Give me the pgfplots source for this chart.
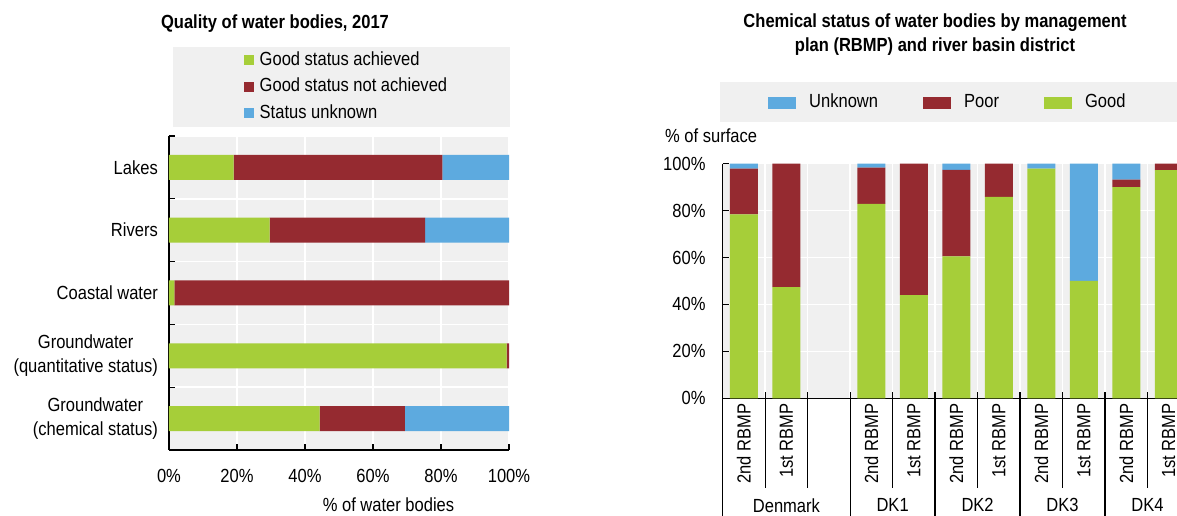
\documentclass[border=0pt]{standalone}
\usepackage{pgfplots}
\pgfplotsset{compat=1.18}
\usepackage{fontspec}
\setmainfont{Liberation Sans}[FakeStretch=0.87]
\definecolor{cgreen}{HTML}{A6CE39}
\definecolor{cred}{HTML}{952A30}
\definecolor{cblue}{HTML}{5DAADF}
\definecolor{bggray}{HTML}{F0F0F0}
\newcommand{\fs}{\fontsize{19}{24}\selectfont}
\pgfplotsset{
  xbar legend/.style={legend image code/.code={\fill[##1] (0pt,-5pt) rectangle (10pt,5pt);}},
  ybar legend/.style={legend image code/.code={\fill[##1] (0pt,-6pt) rectangle (28pt,6pt);}},
}
\begin{document}
\begin{tikzpicture}
\useasboundingbox (0,0) rectangle (1177pt,516pt);
\fill[white] (0,0) rectangle (1177pt,516pt);
\fill[bggray] (173pt,389pt) rectangle (510pt,469pt);
\fill[bggray] (720pt,394pt) rectangle (1190pt,434pt);
\node[font=\fs\bfseries] at (275pt,492pt) {Quality of water bodies, 2017};
\node[font=\fs\bfseries, align=center] at (935pt,481.5pt) {Chemical status of water bodies by management\\plan (RBMP) and river basin district};
\node[font=\fs] at (388.5pt,11pt) {\% of water bodies};
\node[font=\fs, anchor=west, inner sep=0pt] at (665pt,380pt) {\% of surface};

% ---------------- left chart ----------------
\begin{axis}[
  at={(169pt,66pt)}, anchor=south west, scale only axis,
  width=340pt, height=314pt,
  xbar stacked, bar width=25pt,
  xmin=0, xmax=100, ymin=0.5, ymax=5.5, enlargelimits=false,
  axis background/.style={fill=bggray},
  axis lines*=left,
  axis line style={line width=1.4pt, black},
  tick style={black, line width=1.3pt},
  major tick length=0pt, minor tick length=6pt, tick align=inside,
  xtick={0,20,...,100}, xticklabels={0\%,20\%,40\%,60\%,80\%,100\%},
  minor xtick={0,20,...,100},
  ytick={1,...,5},
  yticklabels={{Groundwater\\(chemical status)},{Groundwater\\(quantitative status)},Coastal water,Rivers,Lakes},
  minor ytick={1.5,2.5,3.5,4.5,5.5},
  xminorgrids, yminorgrids,
  minor grid style={white, line width=1.5pt},
  xticklabel style={font=\fs, inner sep=0pt, anchor=north, yshift=-19pt},
  yticklabel style={font=\fs, inner sep=0pt, align=center, anchor=east, xshift=-11pt},
  legend style={at={(0.2206,1.1576)}, anchor=west, draw=none, fill=none, inner sep=0pt,
    font=\fs, row sep=8.5pt, nodes={inner sep=0pt, text height=14pt, text depth=4pt},
    /tikz/every odd column/.append style={column sep=5.5pt}},
  legend cell align=left,
]
\addlegendimage{fill=cgreen, draw=none, xbar legend}
\addlegendentry{Good status achieved}
\addlegendimage{fill=cred, draw=none, xbar legend}
\addlegendentry{Good status not achieved}
\addlegendimage{fill=cblue, draw=none, xbar legend}
\addlegendentry{Status unknown}
\addplot[fill=cgreen, draw=none, forget plot] coordinates {(44.3,1) (99.3,2) (1.6,3) (29.6,4) (19.0,5)};
\addplot[fill=cred, draw=none, forget plot] coordinates {(25.1,1) (0.7,2) (98.4,3) (45.7,4) (61.4,5)};
\addplot[fill=cblue, draw=none, forget plot] coordinates {(30.6,1) (0,2) (0,3) (24.7,4) (19.6,5)};
\end{axis}

% ---------------- right chart ----------------
\begin{axis}[
  at={(722.7pt,117.7pt)}, anchor=south west, scale only axis,
  width=467.3pt, height=234.6pt,
  ybar stacked, bar width=28pt,
  xmin=0.5, xmax=11.5, ymin=0, ymax=100, enlargelimits=false,
  clip=false,
  axis background/.style={fill=bggray},
  axis lines*=left,
  axis line style={line width=1.4pt, black},
  tick style={black, line width=1.3pt},
  major tick length=0pt, minor tick length=6pt, tick align=inside,
  ytick={0,20,...,100}, yticklabels={0\%,20\%,40\%,60\%,80\%,100\%},
  minor ytick={0,20,...,100},
  xtick={1,2,4,5,6,7,8,9,10,11},
  xticklabels={2nd RBMP,1st RBMP,2nd RBMP,1st RBMP,2nd RBMP,1st RBMP,2nd RBMP,1st RBMP,2nd RBMP,1st RBMP},
  minor xtick={1.5,2.5,...,10.5},
  xminorgrids, yminorgrids,
  minor grid style={white, line width=1.5pt},
  xticklabel style={font=\fs, rotate=90, anchor=east, inner xsep=5pt, inner ysep=0pt},
  yticklabel style={font=\fs, inner sep=0pt, anchor=east, xshift=-17pt},
  legend columns=3,
  legend style={at={(0.0969,1.2604)}, anchor=west, draw=none, fill=none, inner sep=0pt,
    font=\fs, nodes={inner sep=0pt, text height=14pt, text depth=4pt},
    /tikz/every odd column/.append style={column sep=13pt},
    /tikz/every even column/.append style={column sep=45pt}},
]
\addlegendimage{fill=cblue, draw=none, ybar legend}
\addlegendentry{Unknown}
\addlegendimage{fill=cred, draw=none, ybar legend}
\addlegendentry{Poor}
\addlegendimage{fill=cgreen, draw=none, ybar legend}
\addlegendentry{Good}
\addplot[fill=cgreen, draw=none, forget plot] coordinates {(1,78.4) (2,47.4) (4,82.9) (5,44.0) (6,60.5) (7,85.9) (8,97.9) (9,50.1) (10,90.0) (11,97.3)};
\addplot[fill=cred, draw=none, forget plot] coordinates {(1,19.5) (2,52.6) (4,15.4) (5,56.0) (6,36.9) (7,14.1) (8,0) (9,0) (10,3.2) (11,2.7)};
\addplot[fill=cblue, draw=none, forget plot] coordinates {(1,2.1) (2,0) (4,1.7) (5,0) (6,2.6) (7,0) (8,2.1) (9,49.9) (10,6.8) (11,0)};
\draw[line width=1.3pt] (axis cs:0.5,0) -- ++(0pt,-120pt);
\draw[line width=1.3pt] (axis cs:3.5,0) -- ++(0pt,-120pt);
\draw[line width=1.3pt] (axis cs:5.5,0) -- ++(0pt,-120pt);
\draw[line width=1.3pt] (axis cs:7.5,0) -- ++(0pt,-120pt);
\draw[line width=1.3pt] (axis cs:9.5,0) -- ++(0pt,-120pt);
\draw[line width=1.3pt] (axis cs:1.5,0) -- ++(0pt,-90pt);
\draw[line width=1.3pt] (axis cs:2.5,0) -- ++(0pt,-90pt);
\draw[line width=1.3pt] (axis cs:4.5,0) -- ++(0pt,-90pt);
\draw[line width=1.3pt] (axis cs:6.5,0) -- ++(0pt,-90pt);
\draw[line width=1.3pt] (axis cs:8.5,0) -- ++(0pt,-90pt);
\draw[line width=1.3pt] (axis cs:10.5,0) -- ++(0pt,-90pt);
\node[font=\fs] at ([yshift=-107pt]axis cs:2,0) {Denmark};
\node[font=\fs] at ([yshift=-107pt]axis cs:4.5,0) {DK1};
\node[font=\fs] at ([yshift=-107pt]axis cs:6.5,0) {DK2};
\node[font=\fs] at ([yshift=-107pt]axis cs:8.5,0) {DK3};
\node[font=\fs] at ([yshift=-107pt]axis cs:10.5,0) {DK4};
\end{axis}
\end{tikzpicture}
\end{document}
